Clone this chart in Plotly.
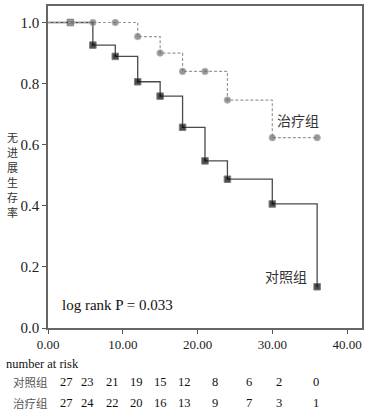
import plotly.graph_objects as go

# Data
ctrl_t = [0, 3, 6, 9, 12, 15, 18, 21, 24, 30, 36]
ctrl_s = [1.0, 1.0, 0.926, 0.889, 0.806, 0.759, 0.657, 0.547, 0.487, 0.406, 0.135]
trt_t = [0, 6, 9, 12, 15, 18, 21, 24, 30, 36]
trt_s = [1.0, 1.0, 1.0, 0.954, 0.900, 0.840, 0.840, 0.746, 0.623, 0.623]

risk_ctrl = [27, 23, 21, 19, 15, 12, 8, 6, 2, 0]
risk_trt = [27, 24, 22, 20, 16, 13, 9, 7, 3, 1]
risk_x = [2.5, 5.3, 8.6, 11.9, 15.1, 18.3, 22.4, 26.9, 30.9, 35.9]

x_ticks = [0, 10, 20, 30, 40]
y_ticks = [0.0, 0.2, 0.4, 0.6, 0.8, 1.0]
y_title = "无进展生存率"

serif = "Liberation Serif"
cjk = "Noto Sans CJK SC"

W, H = 368, 415
ML, MR, MT, MB = 48, 4, 5, 87
PW, PH = W - ML - MR, H - MT - MB


def px(xp):
    return (xp - ML) / PW


def py(yp):
    return (H - MB - yp) / PH


fig = go.Figure()

fig.add_trace(go.Scatter(
    x=ctrl_t, y=ctrl_s, mode="lines+markers", line_shape="hv",
    line=dict(color="#4a4a4a", width=1.3),
    marker=dict(symbol="square", size=[0] + [6.5] * (len(ctrl_t) - 1),
                color=["#000"] + ["#666"] + ["#000"] * (len(ctrl_t) - 2)),
    showlegend=False, hoverinfo="skip"))

fig.add_trace(go.Scatter(
    x=trt_t, y=trt_s, mode="lines+markers", line_shape="hv",
    line=dict(color="#999", width=1.2, dash="3px,2px"),
    marker=dict(symbol="circle", size=[0] + [6.5] * (len(trt_t) - 1), color="#6a6a6a"),
    showlegend=False, hoverinfo="skip"))

fig.update_xaxes(range=[0, 42], tickvals=x_ticks, ticktext=[f"{v:.2f}" for v in x_ticks],
                 ticks="outside", ticklen=4, tickcolor="#555", showgrid=False, zeroline=False,
                 showline=True, linecolor="#666", linewidth=1.5, mirror=True,
                 tickfont=dict(family=serif, size=13, color="#222"))
fig.update_yaxes(range=[0, 1.054], tickvals=y_ticks, ticktext=[f"{v:.1f}" for v in y_ticks],
                 ticks="outside", ticklen=4, tickcolor="#555", showgrid=False, zeroline=False,
                 showline=True, linecolor="#666", linewidth=1.5, mirror=True,
                 tickfont=dict(family=serif, size=15, color="#222"))

ann = []
for i, ch in enumerate(y_title):
    ann.append(dict(xref="paper", yref="paper", x=px(12), y=py(136 + 15.2 * i), text=ch,
                    showarrow=False, xanchor="center", yanchor="middle", borderpad=0,
                    font=dict(family=cjk, size=11, color="#333")))
ann += [
    dict(x=33.5, y=0.68, text="治疗组", showarrow=False, bgcolor="white",
         font=dict(family=cjk, size=14, color="#333")),
    dict(x=31.9, y=0.17, text="对照组", showarrow=False, bgcolor="white",
         font=dict(family=cjk, size=14, color="#333")),
    dict(xref="x", yref="paper", x=9.3, y=py(305), text="log rank P = 0.033", showarrow=False,
         yanchor="middle", font=dict(family=serif, size=15, color="#111")),
]
ann.append(dict(xref="paper", yref="paper", x=px(4), y=py(364), xanchor="left", yanchor="middle",
                text="number at risk", showarrow=False, font=dict(family=serif, size=12.5, color="#111")))
for label, vals, yy in [("对照组", risk_ctrl, 382), ("治疗组", risk_trt, 403)]:
    ann.append(dict(xref="paper", yref="paper", x=px(30), y=py(yy), text=label, showarrow=False,
                    xanchor="center", yanchor="middle", font=dict(family=cjk, size=11.5, color="#555")))
    for xv, v in zip(risk_x, vals):
        ann.append(dict(x=xv, xref="x", yref="paper", y=py(yy), text=str(v), showarrow=False,
                        xanchor="center", yanchor="middle", font=dict(family=serif, size=12.5, color="#111")))

fig.update_layout(width=W, height=H, margin=dict(l=ML, r=MR, t=MT, b=MB),
                  plot_bgcolor="white", paper_bgcolor="white", annotations=ann)

fig.write_html("out.html", config={"displayModeBar": False},
               post_script="document.body.style.margin='0';")
